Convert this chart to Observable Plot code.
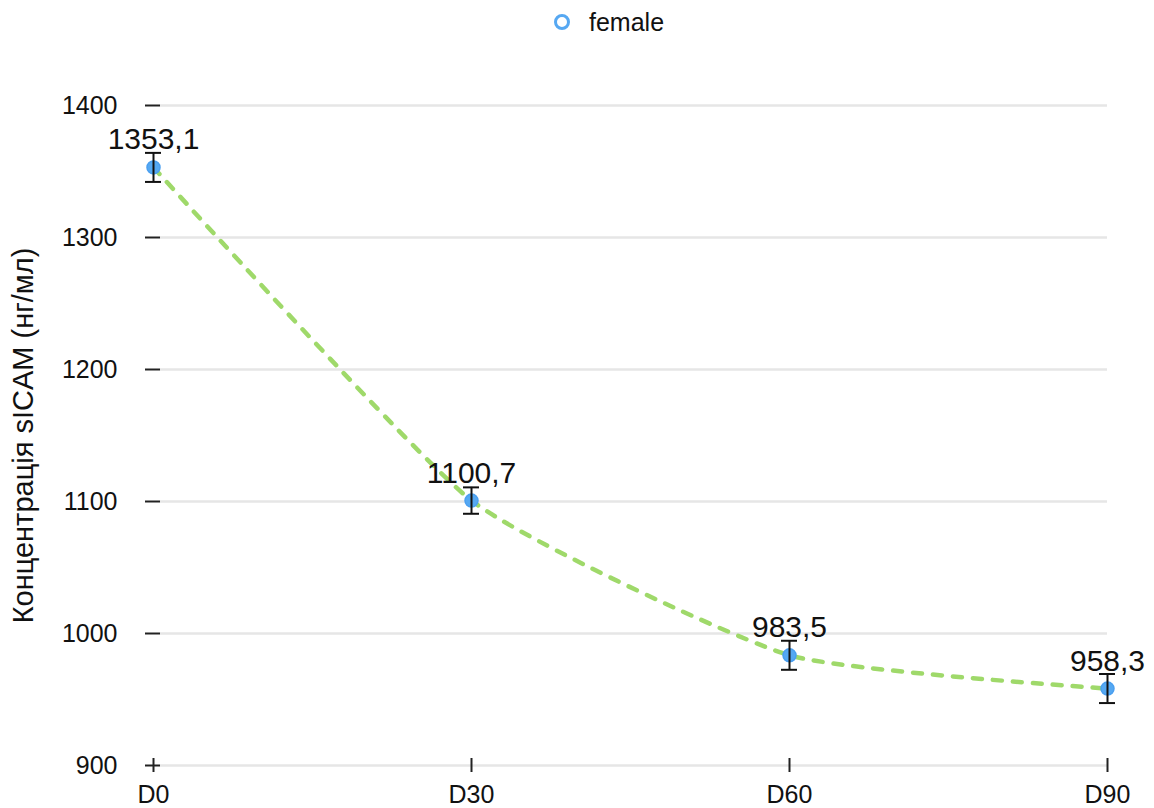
<!DOCTYPE html>
<html>
<head>
<meta charset="utf-8">
<script src="https://cdn.jsdelivr.net/npm/d3@7"></script>
<script src="https://cdn.jsdelivr.net/npm/@observablehq/plot@0.6"></script>
<style>
  html, body { margin: 0; padding: 0; background: #fff; }
  body { width: 1154px; height: 808px; overflow: hidden; font-family: "Liberation Sans", Arial, sans-serif; }
  #legend { height: 50px; position: relative; font-size: 25px; color: #111; }
  #legend .sw { position: absolute; left: 554px; top: 14px; width: 10px; height: 10px; border: 3.5px solid #56a8f2; border-radius: 50%; background: #fff; }
  #legend .t { position: absolute; left: 589px; top: 8px; }
</style>
</head>
<body>
<div id="legend"></div>
<div id="chart"></div>
<script>
const seriesName = "female";
const days = ["D0", "D30", "D60", "D90"];
const means = [1353.1, 1100.7, 983.5, 958.3];
const errors = [11, 10, 11, 11];
const yTicks = [900, 1000, 1100, 1200, 1300, 1400];
const yLabel = "Концентрація sICAM (нг/мл)";

const rows = days.map((d, i) => ({
  day: d,
  mean: means[i],
  lo: means[i] - errors[i],
  hi: means[i] + errors[i],
  label: means[i].toFixed(1).replace(".", ",")
}));

document.getElementById("legend").innerHTML =
  `<span class="sw"></span><span class="t">${seriesName}</span>`;

const font = "Liberation Sans, Arial, sans-serif";

const chart = Plot.plot({
  width: 1154,
  height: 758,
  marginTop: 55,
  marginBottom: 43,
  marginLeft: 160,
  marginRight: 47,
  style: { fontFamily: font, background: "#fff", color: "#111" },
  x: { type: "point", domain: days, range: [152, 1107], padding: 0 },
  y: { domain: [900, 1400] },
  marks: [
    Plot.ruleY(yTicks, { stroke: "#e6e6e6", strokeWidth: 2.5 }),
    Plot.axisY({ ticks: yTicks, tickFormat: d => String(d), tickSize: 15, tickPadding: 28, fontSize: 25, label: null, stroke: "#222", strokeWidth: 2, fill: "#111" }),
    Plot.ruleX(days, { x: d => d, y1: () => yTicks[0], y2: () => yTicks[0], insetTop: -7, insetBottom: -7, stroke: "#222", strokeWidth: 2 }),
    Plot.axisX({ tickSize: 0, tickPadding: 20, fontSize: 25, label: null, fill: "#111" }),
    Plot.text([yLabel], { frameAnchor: "left", textAnchor: "middle", rotate: -90, dx: -137, fontSize: 29, fill: "#111" }),
    Plot.line(rows, { x: "day", y: "mean", curve: "cardinal", tension: 0.5, stroke: "#9fd96a", strokeWidth: 4.5, strokeDasharray: "9,11" }),
    Plot.dot(rows, { x: "day", y: "mean", r: 6.5, fill: "#55a8f2", stroke: "#4a9ff0", strokeWidth: 1.5 }),
    Plot.ruleX(rows, { x: "day", y1: "lo", y2: "hi", stroke: "#111", strokeWidth: 2 }),
    Plot.ruleY(rows, { x1: "day", x2: "day", y: "hi", insetLeft: -8, insetRight: -8, stroke: "#111", strokeWidth: 2 }),
    Plot.ruleY(rows, { x1: "day", x2: "day", y: "lo", insetLeft: -8, insetRight: -8, stroke: "#111", strokeWidth: 2 }),
    Plot.text(rows, { x: "day", y: "mean", text: "label", lineAnchor: "bottom", dy: -18, fontSize: 30, fill: "#111" })
  ]
});
document.getElementById("chart").appendChild(chart);
</script>
</body>
</html>
